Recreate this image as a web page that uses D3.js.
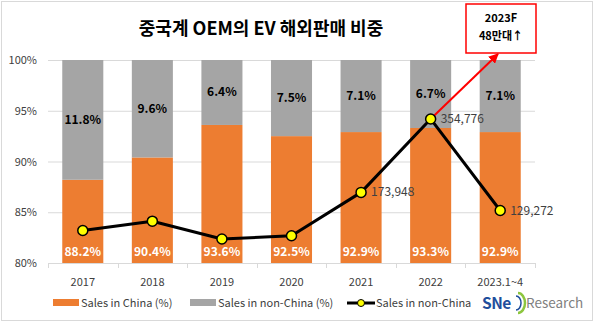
<!DOCTYPE html>
<html><head><meta charset="utf-8">
<script src="https://cdn.jsdelivr.net/npm/d3@7"></script>
<style>body{margin:0;background:#fff}svg{display:block}text{font-family:"Noto Sans CJK KR","Noto Sans",sans-serif}</style>
</head><body><svg id="c" width="596" height="325"></svg>
<script>
const categories = ["2017","2018","2019","2020","2021","2022","2023.1~4"];
const chinaPct = [88.2,90.4,93.6,92.5,92.9,93.3,92.9];
const nonChinaPct = [11.8,9.6,6.4,7.5,7.1,6.7,7.1];
const nonChinaSales = [80000,103000,59000,67000,173948,354776,129272];
const salesLabels = [null,null,null,null,"173,948","354,776","129,272"];
const yTicks = [80,85,90,95,100];
const title = "중국계 OEM의 EV 해외판매 비중";
const noteLines = ["2023F","48만대↑"];
const legendItems = ["Sales in China (%)","Sales in non-China (%)","Sales in non-China"];

const svg = d3.select("#c");
const L=48,R=535,T=60,B=263;
const x = d3.scaleBand().domain(categories).range([L,R]).paddingInner(0.41).paddingOuter(0.205);
const xb = d3.scaleBand().domain(categories).range([L,R]);
const y = d3.scaleLinear().domain([80,100]).range([B,T]);
const y2 = d3.scaleLinear().domain([0,500000]).range([B,T]);
const ORANGE="#ED7D31", GRAY="#A5A5A5";

svg.append("rect").attr("x",1.5).attr("y",1.5).attr("width",591).attr("height",319).attr("fill","#fff").attr("stroke","#d9d9d9");

svg.append("text").attr("x",261).attr("y",35).attr("text-anchor","middle").attr("font-size",18).attr("font-weight","bold").attr("fill","#000").text(title);

// gridlines
svg.append("g").selectAll("line").data(yTicks.slice(1)).join("line")
 .attr("x1",L).attr("x2",R).attr("y1",d=>y(d)+0.5).attr("y2",d=>y(d)+0.5).attr("stroke","#d9d9d9");
svg.append("g").selectAll("text").data(yTicks).join("text")
 .attr("x",37).attr("y",d=>y(d)+4).attr("text-anchor","end").attr("font-size",11).attr("fill","#404040").text(d=>d+"%");

// bars
const g = svg.append("g");
categories.forEach((c,i)=>{
  g.append("rect").attr("x",x(c)).attr("width",x.bandwidth()).attr("y",y(chinaPct[i])).attr("height",B-y(chinaPct[i])).attr("fill",ORANGE);
  g.append("rect").attr("x",x(c)).attr("width",x.bandwidth()).attr("y",y(100)).attr("height",y(chinaPct[i])-y(100)).attr("fill",GRAY);
  g.append("text").attr("x",x(c)+x.bandwidth()/2).attr("y",(y(100)+y(chinaPct[i]))/2+4).attr("text-anchor","middle").attr("font-size",12).attr("font-weight","bold").attr("fill","#000").text(nonChinaPct[i].toFixed(1)+"%");
  g.append("text").attr("x",x(c)+x.bandwidth()/2).attr("y",B-7).attr("text-anchor","middle").attr("font-size",12).attr("font-weight","bold").attr("fill","#fff").text(chinaPct[i].toFixed(1)+"%");
});

// x axis
svg.append("line").attr("x1",L).attr("x2",R).attr("y1",B+0.5).attr("y2",B+0.5).attr("stroke","#d9d9d9");
svg.append("g").selectAll("line").data(categories.concat(["_end"])).join("line")
 .attr("x1",(d,i)=>Math.round(i<categories.length?xb(d):R)+0.5).attr("x2",(d,i)=>Math.round(i<categories.length?xb(d):R)+0.5)
 .attr("y1",B).attr("y2",B+5).attr("stroke","#d9d9d9");
svg.append("g").selectAll("text").data(categories).join("text")
 .attr("x",d=>xb(d)+xb.bandwidth()/2).attr("y",B+23).attr("text-anchor","middle").attr("font-size",11).attr("fill","#404040").text(d=>d);

// line
const cx = c=>x(c)+x.bandwidth()/2;
const pts = categories.map((c,i)=>[cx(c),y2(nonChinaSales[i])]);

// red arrow annotation
const boxX=466, boxY=4, boxW=70, boxH=49;
const p22 = pts[5];
const ax2=498, ay2=boxY+boxH+1;
svg.append("defs").append("marker").attr("id","ah").attr("viewBox","0 0 10 10").attr("refX",9).attr("refY",5).attr("markerWidth",5).attr("markerHeight",5).attr("orient","auto").attr("markerUnits","strokeWidth")
 .append("path").attr("d","M0,0L10,5L0,10z").attr("fill","#ff0000");
svg.append("line").attr("x1",p22[0]).attr("y1",p22[1]).attr("x2",ax2).attr("y2",ay2).attr("stroke","#ff0000").attr("stroke-width",2).attr("marker-end","url(#ah)");

svg.append("path").attr("d",d3.line()(pts)).attr("fill","none").attr("stroke","#000").attr("stroke-width",3).attr("stroke-linejoin","round");
svg.append("g").selectAll("circle").data(pts).join("circle").attr("cx",d=>d[0]).attr("cy",d=>d[1]).attr("r",5).attr("fill","#ffff00").attr("stroke","#000").attr("stroke-width",1.5);
svg.append("g").selectAll("text").data(pts.map((p,i)=>[p,salesLabels[i]]).filter(d=>d[1])).join("text")
 .attr("x",d=>d[0][0]+10).attr("y",d=>d[0][1]+4).attr("font-size",12).attr("fill","#404040").text(d=>d[1]);

svg.append("rect").attr("x",boxX).attr("y",boxY).attr("width",boxW).attr("height",boxH).attr("fill","#fff").attr("stroke","#ff0000").attr("stroke-width",1.5);
noteLines.forEach((t,i)=>svg.append("text").attr("x",boxX+boxW/2).attr("y",boxY+18+i*18).attr("text-anchor","middle").attr("font-size",11).attr("font-weight","bold").attr("fill","#000").text(t));

// legend
const ly=303;
svg.append("rect").attr("x",53).attr("y",ly-4).attr("width",26).attr("height",7).attr("fill",ORANGE);
svg.append("text").attr("x",81).attr("y",ly+4).attr("font-size",11).attr("fill","#404040").text(legendItems[0]);
svg.append("rect").attr("x",190).attr("y",ly-4).attr("width",26).attr("height",7).attr("fill",GRAY);
svg.append("text").attr("x",218).attr("y",ly+4).attr("font-size",11).attr("fill","#404040").text(legendItems[1]);
svg.append("line").attr("x1",347).attr("x2",375).attr("y1",ly).attr("y2",ly).attr("stroke","#000").attr("stroke-width",3);
svg.append("circle").attr("cx",361).attr("cy",ly).attr("r",3.5).attr("fill","#ffff00").attr("stroke","#000").attr("stroke-width",1);
svg.append("text").attr("x",376).attr("y",ly+4).attr("font-size",11).attr("fill","#404040").text(legendItems[2]);

// logo
svg.append("text").attr("x",482).attr("y",ly+6).attr("font-size",15.5).attr("font-weight","bold").attr("fill","#1f4e9c").attr("font-family","Liberation Sans, Arial, sans-serif").attr("letter-spacing",-0.5).text("SNe");
svg.append("path").attr("d","M518,293 A7,10 0 0 1 518,313").attr("fill","none").attr("stroke","#8dc63f").attr("stroke-width",2.5);
svg.append("path").attr("d","M516,296 A5,7 0 0 1 516,310").attr("fill","none").attr("stroke","#1f4e9c").attr("stroke-width",1.5);
svg.append("text").attr("x",526).attr("y",ly+5).attr("font-size",13.5).attr("fill","#7f7f7f").attr("font-family","Liberation Sans, Arial, sans-serif").text("Research");
</script></body></html>
